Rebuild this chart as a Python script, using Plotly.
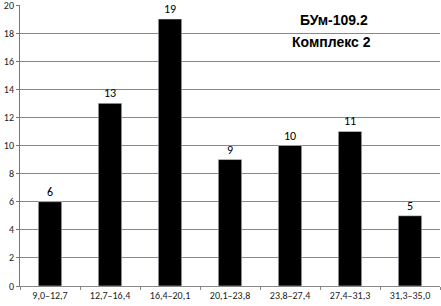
import plotly.graph_objects as go

categories = ["9,0–12,7", "12,7–16,4", "16,4–20,1", "20,1–23,8", "23,8–27,4", "27,4–31,3", "31,3–35,0"]
values = [6, 13, 19, 9, 10, 11, 5]
y_ticks = [0, 2, 4, 6, 8, 10, 12, 14, 16, 18, 20]

fig = go.Figure(go.Bar(
    x=categories, y=values, marker_color="black", width=0.39,
    text=[str(v) for v in values], textposition="outside",
    textfont=dict(family="Carlito, Lato, sans-serif", size=12, color="black"),
    cliponaxis=False,
))
L, R, T, B = 20, 1, 5, 20
fig.update_layout(
    width=441, height=306,
    margin=dict(l=L, r=R, t=T, b=B, autoexpand=False),
    plot_bgcolor="white", paper_bgcolor="white",
    showlegend=False,
    bargap=0.6,
    font=dict(family="Carlito, Lato, sans-serif", size=10, color="#222"),
    xaxis=dict(showline=True, linecolor="#888", linewidth=1, ticks="outside",
               ticklen=3, tickcolor="#888", tickson="boundaries", automargin=False,
               tickfont=dict(size=10), showgrid=False),
    yaxis=dict(range=[0, 20], tickvals=y_ticks, showline=True, linecolor="#777",
               linewidth=1, ticks="outside", ticklen=3, tickcolor="#777", automargin=False,
               ticklabeloverflow="allow",
               gridcolor="#888", gridwidth=1, tickfont=dict(size=10), zeroline=False),
)
pw = 441 - L - R
ph = 306 - T - B
for txt, px, py in [("<b>БУм-109.2</b>", 334, 20), ("<b>Комплекс 2</b>", 331, 42)]:
    fig.add_annotation(text=txt, x=(px - L) / pw, y=1 - (py - T) / ph, xref="paper", yref="paper",
                       xanchor="center", yanchor="middle", showarrow=False,
                       font=dict(family="Liberation Sans, Arial", size=14, color="black"))
fig.write_html("out.html", config={"displayModeBar": False},
               post_script="document.body.style.margin='0';document.body.style.overflow='hidden';")
